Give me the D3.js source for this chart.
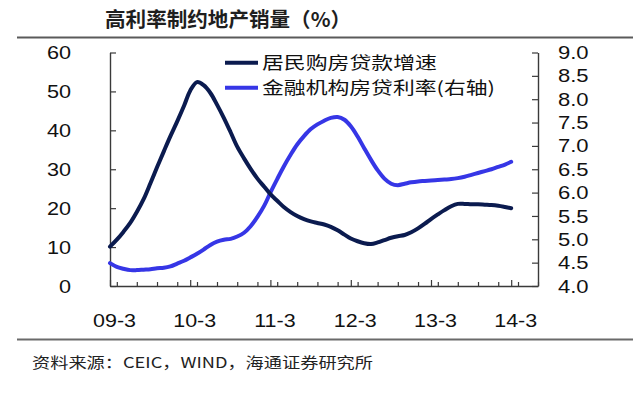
<!DOCTYPE html>
<html>
<head>
<meta charset="utf-8">
<script src="https://cdn.jsdelivr.net/npm/d3@7"></script>
<style>
body{margin:0;background:#fff;}
svg{display:block;}
</style>
</head>
<body>
<div id="graph"></div>
<script>
// monthly points, 09-3 .. 14-3
var months = d3.timeMonth.range(new Date(2009, 2, 1), new Date(2014, 3, 1));

// 居民购房贷款增速 (left axis, %)
var loanGrowth = [10.1,11.9,13.9,16.2,19.0,22.3,26.4,30.5,34.6,38.5,
    42.3,46.3,50.2,52.4,51.6,49.6,46.6,43.2,39.5,35.8,
    32.8,30.1,27.6,25.5,23.6,21.9,20.3,19.0,18.0,17.2,
    16.6,16.2,15.8,15.2,14.3,13.2,12.2,11.5,11.0,10.8,
    11.2,11.8,12.4,12.8,13.1,13.8,14.8,16.0,17.2,18.4,
    19.5,20.5,21.1,21.1,21.0,21.0,20.9,20.8,20.6,20.3,
    20.0];

// 金融机构房贷利率 (right axis, %)
var mortgageRate = [4.49,4.41,4.37,4.34,4.34,4.35,4.36,4.38,4.39,4.42,
    4.48,4.54,4.61,4.69,4.78,4.88,4.95,4.99,5.01,5.06,
    5.14,5.28,5.48,5.72,6.00,6.29,6.56,6.81,7.03,7.21,
    7.36,7.46,7.54,7.60,7.62,7.56,7.42,7.20,6.95,6.70,
    6.48,6.30,6.19,6.16,6.19,6.22,6.24,6.25,6.26,6.27,
    6.28,6.29,6.31,6.34,6.38,6.42,6.46,6.50,6.55,6.60,
    6.66];

var leftTicks = [0,10,20,30,40,50,60];
var rightTicks = [4.0,4.5,5.0,5.5,6.0,6.5,7.0,7.5,8.0,8.5,9.0];
var xLabels = ["09-3","10-3","11-3","12-3","13-3","14-3"];
var seriesNames = ["居民购房贷款增速","金融机构房贷利率(右轴)"];
var title = "高利率制约地产销量（%）";
var source = "资料来源：CEIC，WIND，海通证券研究所";

var W = 640, H = 393;
var plot = {left:110, right:538, top:52.5, bottom:286};
var colors = ["#0b1b4f", "#3636e6"];
var numFont = "'Liberation Sans', Arial, sans-serif";
var cjkFont = "'Noto Sans CJK SC', 'Noto Sans', sans-serif";

var svg = d3.select('#graph').append('svg')
    .attr('width', W)
    .attr('height', H);

var x = d3.scaleTime()
    .domain([new Date(2009, 2, 1), new Date(2014, 6, 1)])
    .range([plot.left, plot.right]);
var yL = d3.scaleLinear().domain([0, 60]).range([plot.bottom, plot.top]);
var yR = d3.scaleLinear().domain([4, 9]).range([plot.bottom, plot.top]);

// rules top and bottom
svg.append('line').attr('x1', 17).attr('x2', 633).attr('y1', 37.5).attr('y2', 37.5)
    .attr('stroke', '#5a5a5a').attr('stroke-width', 2);
svg.append('line').attr('x1', 17).attr('x2', 633).attr('y1', 339.5).attr('y2', 339.5)
    .attr('stroke', '#6a6a6a').attr('stroke-width', 2);

svg.append('text')
    .attr('x', 105).attr('y', 27)
    .attr('font-family', cjkFont).attr('font-size', 20).attr('font-weight', 'bold')
    .attr('textLength', 246).attr('lengthAdjust', 'spacingAndGlyphs')
    .attr('fill', '#1e1e1e')
    .text(title);

svg.append('text')
    .attr('x', 32).attr('y', 368)
    .attr('font-family', cjkFont).attr('font-size', 15)
    .attr('textLength', 341).attr('lengthAdjust', 'spacingAndGlyphs')
    .attr('fill', '#222')
    .text(source);

function styleAxis(g) {
    g.selectAll('path.domain').attr('stroke', '#3a3a3a').attr('stroke-width', 1.4);
    g.selectAll('.tick line').attr('stroke', '#3a3a3a').attr('stroke-width', 1.2);
    g.selectAll('text').attr('font-family', numFont).attr('font-size', 19).attr('fill', '#111');
}

// left axis
var gL = svg.append('g')
    .attr('transform', 'translate(' + plot.left + ',0)')
    .call(d3.axisLeft(yL).tickValues(leftTicks).tickSizeInner(-6).tickSizeOuter(0).tickFormat(d3.format('d')));
styleAxis(gL);
gL.selectAll('text').attr('x', 0).attr('transform', 'translate(-39,0) scale(1.14,1)');

// right axis
var gR = svg.append('g')
    .attr('transform', 'translate(' + plot.right + ',0)')
    .call(d3.axisRight(yR).tickValues(rightTicks).tickSizeInner(-6).tickSizeOuter(0).tickFormat(d3.format('.1f')));
styleAxis(gR);
gR.selectAll('text').attr('x', 0).attr('transform', 'translate(20,0) scale(1.16,1)');

// x axis: minor quarterly ticks, then yearly major ticks with labels
var minorTicks = d3.timeMonth.every(3).range(new Date(2009, 2, 1), new Date(2014, 7, 1));
var gXm = svg.append('g')
    .attr('transform', 'translate(0,' + plot.bottom + ')')
    .call(d3.axisBottom(x).tickValues(minorTicks).tickSizeInner(-4).tickSizeOuter(0).tickFormat(''));
styleAxis(gXm);

var majorTicks = xLabels.map(function(s, i) { return new Date(2009 + i, 2, 1); });
var gX = svg.append('g')
    .attr('transform', 'translate(0,' + plot.bottom + ')')
    .call(d3.axisBottom(x).tickValues(majorTicks).tickSizeInner(-6).tickSizeOuter(0)
        .tickFormat(function(d, i) { return xLabels[i]; }));
styleAxis(gX);
gX.select('path.domain').remove();
gX.selectAll('text').attr('x', 0).attr('y', 0).attr('dy', 0)
    .attr('transform', 'translate(4,41) scale(1.13,1)');

// lines
var lineL = d3.line()
    .x(function(d, i) { return x(months[i]); })
    .y(function(d) { return yL(d); })
    .curve(d3.curveCatmullRom.alpha(0.5));
var lineR = d3.line()
    .x(function(d, i) { return x(months[i]); })
    .y(function(d) { return yR(d); })
    .curve(d3.curveCatmullRom.alpha(0.5));

svg.append('path').datum(mortgageRate)
    .attr('d', lineR).attr('fill', 'none')
    .attr('stroke', colors[1]).attr('stroke-width', 4)
    .attr('stroke-linecap', 'round').attr('stroke-linejoin', 'round');
svg.append('path').datum(loanGrowth)
    .attr('d', lineL).attr('fill', 'none')
    .attr('stroke', colors[0]).attr('stroke-width', 4)
    .attr('stroke-linecap', 'round').attr('stroke-linejoin', 'round');

// legend
var legendY = [62.7, 87.7];
var legendLen = [175, 233];
var legend = svg.append('g').selectAll('g')
    .data(seriesNames)
    .enter().append('g');
legend.append('line')
    .attr('x1', 225).attr('x2', 258)
    .attr('y1', function(d, i) { return legendY[i]; })
    .attr('y2', function(d, i) { return legendY[i]; })
    .attr('stroke', function(d, i) { return colors[i]; })
    .attr('stroke-width', 4);
legend.append('text')
    .attr('x', 262)
    .attr('y', function(d, i) { return legendY[i] + 6; })
    .attr('font-family', cjkFont).attr('font-size', 17)
    .attr('textLength', function(d, i) { return legendLen[i]; })
    .attr('lengthAdjust', 'spacingAndGlyphs')
    .attr('fill', '#111')
    .text(function(d) { return d; });
</script>
</body>
</html>
